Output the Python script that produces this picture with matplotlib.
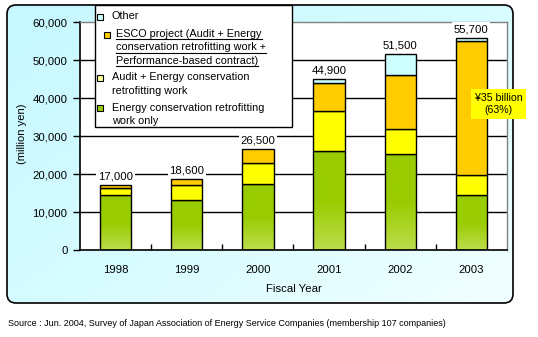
import numpy as np
import matplotlib.pyplot as plt
from matplotlib.patches import FancyBboxPatch, Rectangle
from matplotlib.colors import LinearSegmentedColormap

plt.rcParams['font.family'] = ['Liberation Sans', 'DejaVu Sans']

# ESCO market size by fiscal year (million yen)
years = ["1998", "1999", "2000", "2001", "2002", "2003"]
retrofit_only = [14400, 13100, 17500, 26000, 25200, 14600]
audit_retrofit = [1800, 3900, 5300, 10600, 6600, 5100]
esco_project = [800, 1600, 3700, 7300, 14200, 35200]
other = [0, 0, 0, 1000, 5500, 800]

legend_labels = [
    ["Other"],
    ["ESCO project (Audit + Energy", "conservation retrofitting work +",
     "Performance-based contract)"],
    ["Audit + Energy conservation", "retrofitting work"],
    ["Energy conservation retrofitting", "work only"],
]
source_text = ("Source : Jun. 2004, Survey of Japan Association of Energy Service "
               "Companies (membership 107 companies)")

GREEN_TOP = "#99CC00"
GREEN_BOT = "#BBDD4A"
YELLOW = "#FFFF00"
ORANGE = "#FFCC00"
CYAN = "#CCFFFF"

W, H = 538, 337
fig = plt.figure(figsize=(W / 100, H / 100), dpi=100)
fig.patch.set_facecolor("white")

# background panel in pixel coordinates
bg = fig.add_axes([0, 0, 1, 1], zorder=0)
bg.set_xlim(0, W)
bg.set_ylim(H, 0)
bg.axis("off")

panel = FancyBboxPatch((7, 5), 506, 298, boxstyle="round,pad=0,rounding_size=9",
                       facecolor="none", edgecolor="black", lw=1.2, zorder=3)
bg.add_patch(panel)
gx, gy = np.meshgrid(np.linspace(0, 1, 200), np.linspace(0, 1, 120))
grad = np.clip(0.55 * gx + 0.45 * gy, 0, 1)
bg_cmap = LinearSegmentedColormap.from_list("bgc", ["#C6F8FF", "#D6FCFF", "#F2FFFF"])
im = bg.imshow(grad, cmap=bg_cmap, extent=(7, 513, 303, 5), aspect="auto", zorder=1)
im.set_clip_path(panel)

bg.text(8, 323, source_text, fontsize=6.5, va="center", ha="left")

# main chart
ax = fig.add_axes([80 / W, 1 - 250 / H, 427 / W, 228 / H], zorder=1)
ax.set_facecolor("white")
x = np.arange(len(years))
bw = 0.44

bottoms = np.zeros(len(years))
green_bars = ax.bar(x, retrofit_only, bw, bottom=bottoms, color="none",
                    edgecolor="black", lw=1.0, zorder=3)
green_cmap = LinearSegmentedColormap.from_list("g", [GREEN_TOP, GREEN_TOP, GREEN_BOT])
for rect in green_bars:
    gimg = ax.imshow(np.linspace(0, 1, 50).reshape(-1, 1), cmap=green_cmap,
                     extent=(rect.get_x(), rect.get_x() + rect.get_width(),
                             rect.get_y(), rect.get_y() + rect.get_height()),
                     origin="upper", aspect="auto", zorder=2)
    gimg.set_clip_path(rect)
bottoms += retrofit_only
ax.bar(x, audit_retrofit, bw, bottom=bottoms, color=YELLOW, edgecolor="black", lw=1.0, zorder=3)
bottoms += audit_retrofit
ax.bar(x, esco_project, bw, bottom=bottoms, color=ORANGE, edgecolor="black", lw=1.0, zorder=3)
bottoms += esco_project
oth = np.array(other)
ax.bar(x[oth > 0], oth[oth > 0], bw, bottom=bottoms[oth > 0], color=CYAN,
       edgecolor="black", lw=1.0, zorder=3)
bottoms += other

totals = bottoms
for xi, t in zip(x, totals):
    ax.annotate(f"{int(t):,}", (xi, t), xytext=(0, 3), textcoords="offset points",
                ha="center", va="bottom", fontsize=8.2, zorder=5,
                bbox=dict(boxstyle="square,pad=0.15", facecolor="white", edgecolor="none"))

ax.set_xlim(-0.5, len(years) - 0.5)
ax.set_ylim(0, 60000)
ax.set_yticks(np.arange(0, 60001, 10000))
ax.set_yticklabels([f"{v:,}" for v in range(0, 60001, 10000)], fontsize=8.2)
for v in range(10000, 60000, 10000):
    ax.axhline(v, color="black", lw=1.0, zorder=1)
ax.tick_params(axis="y", direction="out", length=5, width=1, pad=4)
ax.set_xticks(x)
ax.set_xticklabels(years, fontsize=8.2)
ax.set_xticks(np.arange(0.5, len(years) - 0.5), minor=True)
ax.tick_params(axis="x", which="major", length=0, pad=11)
ax.tick_params(axis="x", which="minor", direction="in", length=4, width=1)
for s in ["left", "bottom"]:
    ax.spines[s].set_color("black")
    ax.spines[s].set_linewidth(1.2)
for s in ["top", "right"]:
    ax.spines[s].set_color("#808080")
    ax.spines[s].set_linewidth(1.0)
ax.set_xlabel("Fiscal Year", fontsize=8.2, labelpad=6)
ax.set_ylabel("(million yen)", fontsize=8)
ax.yaxis.set_label_coords(-0.124, 0.51)

# share of ESCO projects in the latest year
last = len(years) - 1
share = esco_project[last] / totals[last] * 100
ax.text(x[last] + 0.38, 38400, f"¥{esco_project[last] / 1000:.0f} billion\n({share:.0f}%)",
        ha="center", va="center", fontsize=7.6, zorder=6, linespacing=1.35,
        bbox=dict(boxstyle="square,pad=0.35", facecolor=YELLOW, edgecolor="none"))

# legend box drawn on top
top = fig.add_axes([0, 0, 1, 1], zorder=2)
top.set_xlim(0, W)
top.set_ylim(H, 0)
top.axis("off")
top.patch.set_alpha(0)
top.add_patch(Rectangle((94.5, 5), 197, 122, facecolor="white", edgecolor="black", lw=1.0))
swatch = [(97, 13.5, CYAN), (104, 31.5, ORANGE), (97, 74.5, "#FFFF99"), (97, 105, GREEN_TOP)]
text_x = [112, 116, 112.5, 112.5]
text_y = [16.3, 34.3, 77.3, 108.3]
line_step = 13.2
esco_lines = []
for (sx, sy, c), tx, ty, lines in zip(swatch, text_x, text_y, legend_labels):
    top.add_patch(Rectangle((sx, sy), 6, 6, facecolor=c, edgecolor="black", lw=0.8))
    for i, ln in enumerate(lines):
        t = top.text(tx, ty + i * line_step, ln, fontsize=7.8, va="center", ha="left")
        if c == ORANGE:
            esco_lines.append(t)

# underline the ESCO entry (hyperlink style)
fig.canvas.draw()
inv = top.transData.inverted()
for t in esco_lines:
    bb = t.get_window_extent()
    (x0, _), (x1, _) = inv.transform([(bb.x0, bb.y0), (bb.x1, bb.y0)])
    uy = t.get_position()[1] + 5
    top.plot([x0, x1], [uy, uy], color="black", lw=0.8)

fig.savefig("out.png", dpi=100)
